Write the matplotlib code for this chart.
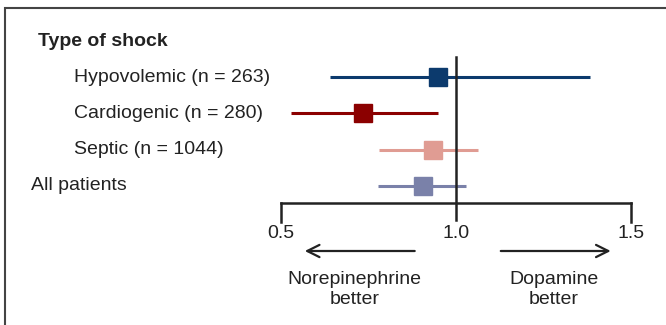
import matplotlib.pyplot as plt
from matplotlib.patches import Rectangle

# forest plot data (relative risk with 95% CI)
groups = ["Hypovolemic (n = 263)", "Cardiogenic (n = 280)", "Septic (n = 1044)", "All patients"]
estimate = [0.949, 0.734, 0.934, 0.906]
ci_low = [0.640, 0.529, 0.780, 0.777]
ci_high = [1.383, 0.949, 1.063, 1.029]
colors = ["#0c3a6d", "#8b0000", "#e09c93", "#7a81a9"]
ticks = [0.5, 1.0, 1.5]
tick_labels = ["0.5", "1.0", "1.5"]

plt.rcParams['font.family'] = ['Liberation Sans', 'DejaVu Sans']
txt = "#222222"
fs = 14

fig = plt.figure(figsize=(6.66, 3.25), dpi=100)
ax = fig.add_axes([0, 0, 1, 1])
ax.axis('off')
# x in data units, y in pixel rows
ax.set_xlim(0.5 - 281 / 350, 0.5 + (666 - 281) / 350)
ax.set_ylim(325, 0)

# frame around the panel (display coords, origin bottom-left)
fig.patches.append(Rectangle((5, -100), 800, 325 - 8 + 100, transform=None, fill=False,
                             edgecolor="#444444", linewidth=1.5))

row_y = [77 + 36.3 * i for i in range(len(groups))]

ax.text(-0.194, 42, "Type of shock", fontsize=fs, fontweight='bold', color=txt, va='center')
for i, g in enumerate(groups):
    xpos = -0.214 if g == "All patients" else -0.091
    ax.text(xpos, row_y[i], g, fontsize=fs, color=txt, va='center')
    ax.plot([ci_low[i], ci_high[i]], [row_y[i], row_y[i]], color=colors[i], lw=2.2, solid_capstyle='butt')
    ax.plot(estimate[i], row_y[i], marker='s', ms=12.5, color=colors[i], mec=colors[i])

# reference line and axis
ax.plot([1.0, 1.0], [57, 220], color="#222222", lw=1.8)
ax.plot([ticks[0], ticks[-1]], [203, 203], color="#222222", lw=1.8)
for t, lab in zip(ticks, tick_labels):
    if t != 1.0:
        ax.plot([t, t], [203, 222], color="#222222", lw=1.8)
    ax.text(t, 234, lab, fontsize=fs, color=txt, ha='center', va='center')

arrow_kw = dict(arrowstyle='->', color="#222222", lw=1.6, mutation_scale=22)
ax.annotate("", xy=(0.56, 251), xytext=(0.89, 251), arrowprops=arrow_kw)
ax.annotate("", xy=(1.45, 251), xytext=(1.12, 251), arrowprops=arrow_kw)
for xc, lines in [(0.71, ("Norepinephrine", "better")), (1.28, ("Dopamine", "better"))]:
    ax.text(xc, 280, lines[0], fontsize=fs, color=txt, ha='center', va='center')
    ax.text(xc, 300, lines[1], fontsize=fs, color=txt, ha='center', va='center')

fig.savefig("out.png", dpi=100)
